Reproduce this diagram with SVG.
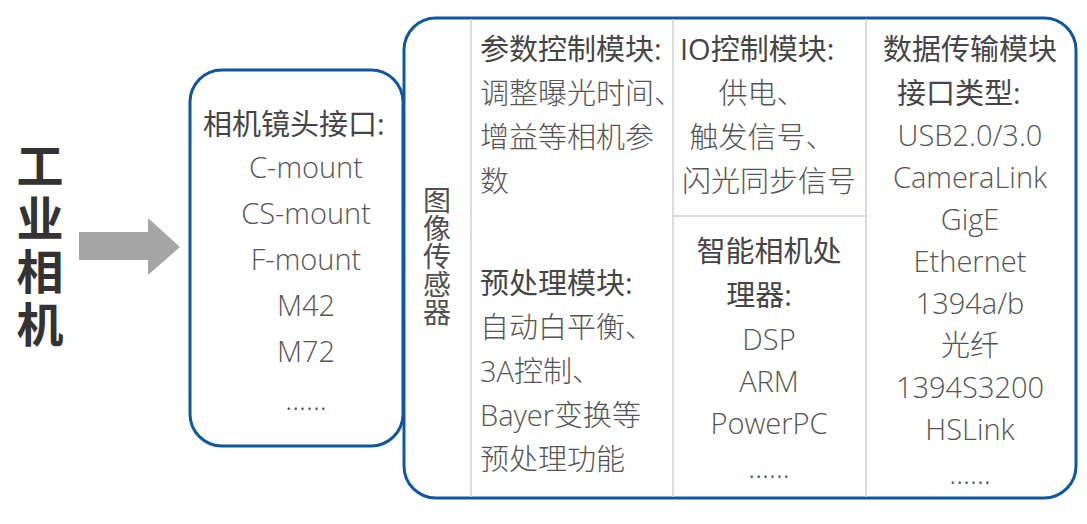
<svg xmlns="http://www.w3.org/2000/svg" width="1087" height="524" viewBox="0 0 1087 524">
<style>
.box{fill:#fff;stroke:#10579f;stroke-width:3}
.div{stroke:#d0d0d0;stroke-width:1.5;fill:none}
.h{font-family:"Open Sans","Noto Sans CJK SC",sans-serif;font-size:29px;fill:#454545}
.t{font-family:"Open Sans","Noto Sans CJK SC",sans-serif;font-weight:300;font-size:29px;fill:#555}
.c{text-anchor:middle}
.v{font-family:"Noto Sans CJK SC",sans-serif;font-size:28px;fill:#505050;writing-mode:vertical-rl}
.title{font-family:"Noto Sans CJK SC",sans-serif;font-weight:bold;font-size:47px;fill:#333;writing-mode:vertical-rl;letter-spacing:6px}
</style>
<rect width="1087" height="524" fill="#fff"/>
<g id="title">
<text class="title" x="40" y="142">工业相机</text>
</g>
<g id="connectors">
<polygon points="79,232 148,232 148,218 180,247 148,275 148,260 79,260" fill="#a6a6a6"/>
</g>
<g id="lens">
<rect class="box" x="190" y="70" width="213" height="376" rx="32"/>
<text class="h" x="203" y="135">相机镜头接口:</text>
<text class="t c" x="306" y="178">C-mount</text>
<text class="t c" x="306" y="224">CS-mount</text>
<text class="t c" x="306" y="270">F-mount</text>
<text class="t c" x="306" y="316">M42</text>
<text class="t c" x="306" y="362">M72</text>
<text class="t c" x="306" y="410">......</text>
</g>
<g id="camera">
<rect class="box" x="404" y="18" width="672" height="480" rx="32"/>
<line class="div" x1="471" y1="19" x2="471" y2="497"/>
<line class="div" x1="673" y1="19" x2="673" y2="497"/>
<line class="div" x1="866" y1="19" x2="866" y2="497"/>
<line class="div" x1="673" y1="216" x2="866" y2="216"/>
</g>
<g id="sensor">
<text class="v" x="437" y="186">图像传感器</text>
</g>
<g id="param">
<text class="h" x="480" y="60">参数控制模块:</text>
<text class="t" x="480" y="104">调整曝光时间、</text>
<text class="t" x="480" y="148">增益等相机参</text>
<text class="t" x="480" y="192">数</text>
</g>
<g id="preproc">
<text class="h" x="480" y="294">预处理模块:</text>
<text class="t" x="480" y="338">自动白平衡、</text>
<text class="t" x="480" y="382">3A控制、</text>
<text class="t" x="480" y="426">Bayer变换等</text>
<text class="t" x="480" y="470">预处理功能</text>
</g>
<g id="io">
<text class="h" x="680" y="60">IO控制模块:</text>
<text class="t c" x="762" y="104">供电、</text>
<text class="t c" x="762" y="148">触发信号、</text>
<text class="t c" x="769" y="192">闪光同步信号</text>
</g>
<g id="processor">
<text class="h c" x="769" y="262">智能相机处</text>
<text class="h c" x="759" y="306">理器:</text>
<text class="t c" x="769" y="350">DSP</text>
<text class="t c" x="769" y="392">ARM</text>
<text class="t c" x="769" y="434">PowerPC</text>
<text class="t c" x="769" y="478">......</text>
</g>
<g id="transfer">
<text class="h c" x="970" y="60">数据传输模块</text>
<text class="h" x="897" y="104">接口类型:</text>
<text class="t c" x="970" y="146">USB2.0/3.0</text>
<text class="t c" x="970" y="188">CameraLink</text>
<text class="t c" x="970" y="230">GigE</text>
<text class="t c" x="970" y="272">Ethernet</text>
<text class="t c" x="970" y="314">1394a/b</text>
<text class="t c" x="970" y="356">光纤</text>
<text class="t c" x="970" y="398">1394S3200</text>
<text class="t c" x="970" y="440">HSLink</text>
<text class="t c" x="970" y="484">......</text>
</g>
</svg>
